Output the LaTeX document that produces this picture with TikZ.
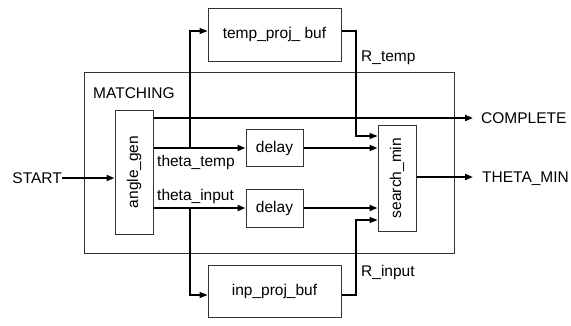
\documentclass[tikz,border=0pt]{standalone}
\usepackage{fontspec}
\setmainfont{Liberation Sans}
\usetikzlibrary{arrows.meta,positioning}
\definecolor{boxgray}{HTML}{333333}

\begin{document}
\begin{tikzpicture}[
x=1pt,y=-1pt,
font=\fontsize{15.5}{18}\selectfont,
blk/.style={rectangle,draw=boxgray,line width=1pt,inner sep=0pt},
vblk/.style={blk,minimum width=38pt},
sig/.style={-{Triangle[length=8pt,width=6pt]},line width=2pt},
tap/.style={-{Triangle[length=8pt,width=6pt]},line width=1.2pt},
lbl/.style={inner sep=0pt}
]
\useasboundingbox (0,0) rectangle (571,325);
\node[blk,minimum width=370pt,minimum height=181pt] (match) at (269,162.5) {};
\node[lbl,anchor=base west] (matchlbl) at (93,98) {MATCHING};
\node[blk,minimum width=133pt,minimum height=53pt] (tpb) at (274.5,34.5) {temp\_proj\_ buf};
\node[blk,minimum width=133pt,minimum height=52pt] (ipb) at (274.5,291) {inp\_proj\_buf};
\node[vblk,minimum height=124pt,label={[rotate=90]center:angle\_gen}] (agen) at (134,172) {};
\node[vblk,minimum height=106pt,label={[rotate=90]center:search\_min}] (smin) at (397,178) {};
\node[blk,minimum width=57pt,minimum height=37pt] (d1) at (274.5,148) {delay};
\node[blk,minimum width=57pt,minimum height=38pt] (d2) at (274.5,208) {delay};
% ports
\node[lbl,anchor=east] (start) at (62,178) {START};
\node[lbl,anchor=west] (comp) at (481,118) {COMPLETE};
\node[lbl,anchor=west] (tmin) at (482,179) {THETA\_MIN};
\coordinate (compend) at (473,118);
\coordinate (tminend) at (473,177);
% signal labels
\node[lbl,anchor=base west] (ttlbl) at (157,166) {theta\_temp};
\node[lbl,anchor=base west] (tilbl) at (157,200) {theta\_input};
\node[lbl,anchor=base west] (rtlbl) at (361,61) {R\_temp};
\node[lbl,anchor=base west] (rilbl) at (361,276) {R\_input};
% taps and bends
\coordinate (ttap) at (190,148);
\coordinate (itap) at (190,208);
\coordinate (rtbend) at (356,136);
\coordinate (ribend) at (356,220);
\draw[sig] (start.east) -- (agen.west |- start.east);
\draw[sig] (agen.east |- compend) -- (compend);
\draw[sig] (agen.east |- d1) -- (d1.west);
\draw[sig] (agen.east |- d2) -- (d2.west);
\draw[sig] (d1.east) -- (smin.west |- d1);
\draw[sig] (d2.east) -- (smin.west |- d2);
\draw[sig] (smin.east |- tminend) -- (tminend);
\draw[tap] (ttap) |- ([yshift=3.5pt]tpb.west);
\draw[tap] (itap) |- ([yshift=-4pt]ipb.west);
\draw[tap] ([yshift=3.5pt]tpb.east) -| (rtbend) -- (smin.west |- rtbend);
\draw[tap] ([yshift=-4pt]ipb.east) -| (ribend) -- (smin.west |- ribend);
\end{tikzpicture}
\end{document}
